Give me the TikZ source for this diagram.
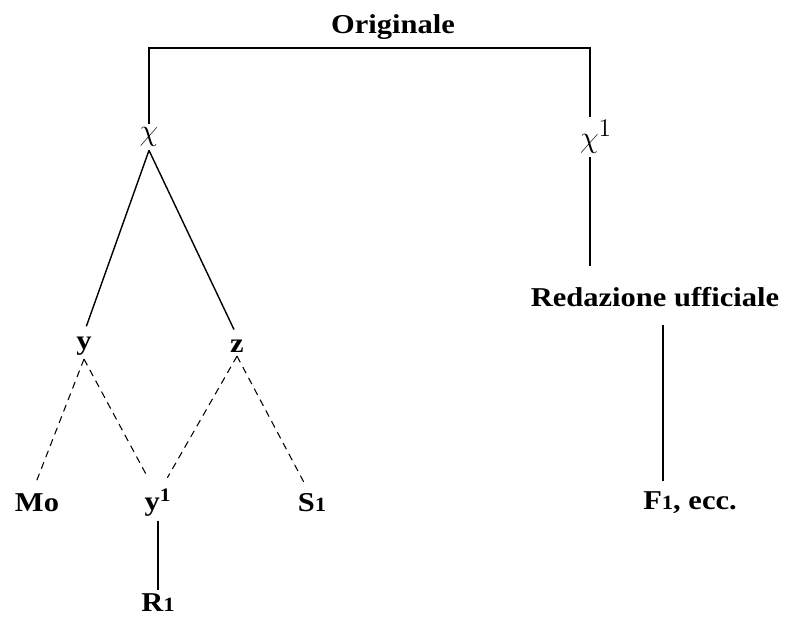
\documentclass[tikz,border=0pt]{standalone}
\usepackage{fontspec}
\setmainfont{Liberation Serif}[FakeStretch=1.12]
\usetikzlibrary{positioning,calc}

\newcommand{\lowone}{{\fontsize{11.5}{12}\selectfont 1}}

\tikzset{
  lbl/.style={font=\fontsize{15.5}{18}\selectfont\bfseries, inner sep=2pt},
  greek/.style={font=\fontsize{19}{22}\selectfont, inner sep=2pt},
  link/.style={line width=0.8pt},
  dlink/.style={line width=0.6pt, dash pattern=on 4pt off 3pt},
}

\begin{document}
\begin{tikzpicture}[x=0.02cm, y=-0.02cm]
  \useasboundingbox (0,0) rectangle (786,616);

  % top of the stemma
  \node[lbl] (orig) at (393,27) {Originale};
  \node[greek] (chi) at (149,137) {$\chi$};
  \node[greek] (chi1) at (596,137) {$\chi^{1}$};
  \coordinate (bar) at (393,48);
  \coordinate (c1) at ($(chi1.south)+(-6,0)$);
  \coordinate (c1top) at ($(chi1.north)+(-6,0)$);

  % left branch
  \node[lbl] (y) at (84,346) {y};
  \node[lbl] (z) at (237,346) {z};
  \node[lbl] (mo) at (37,503) {Mo};
  \node[lbl] (y1) at (158,503) {y\textsuperscript{1}};
  \node[lbl] (s1) at (312,503) {S\lowone};
  \node[lbl] (r1) at (158,603) {R\lowone};

  % right branch
  \node[lbl] (red) at (655,297) {Redazione ufficiale};
  \node[lbl] (f1) at (690,503) {F\lowone, ecc.};
  \coordinate (c2) at ($(red.south)+(8,0)$);

  \draw[link] (chi.north) |- (bar) -| (c1top);
  \draw[link, shorten >=4pt] (chi.south) -- (y.north);
  \draw[link, shorten >=4pt] (chi.south) -- (z.north);
  \draw[dlink, shorten >=5pt] (y.south) -- ($(mo.north)+(-4,0)$);
  \draw[dlink, shorten >=5pt] (y.south) -- ($(y1.north)+(-6,0)$);
  \draw[dlink, shorten >=5pt] (z.south) -- ($(y1.north)+(5,0)$);
  \draw[dlink, shorten >=5pt] (z.south) -- ($(s1.north)+(-4,0)$);
  \draw[link] (y1.south) -- (r1.north);
  \draw[link, shorten >=10pt] (c1) -- (c1 |- red.north);
  \draw[link, shorten <=8pt, shorten >=4pt] (c2) -- (c2 |- f1.north);
\end{tikzpicture}
\end{document}
